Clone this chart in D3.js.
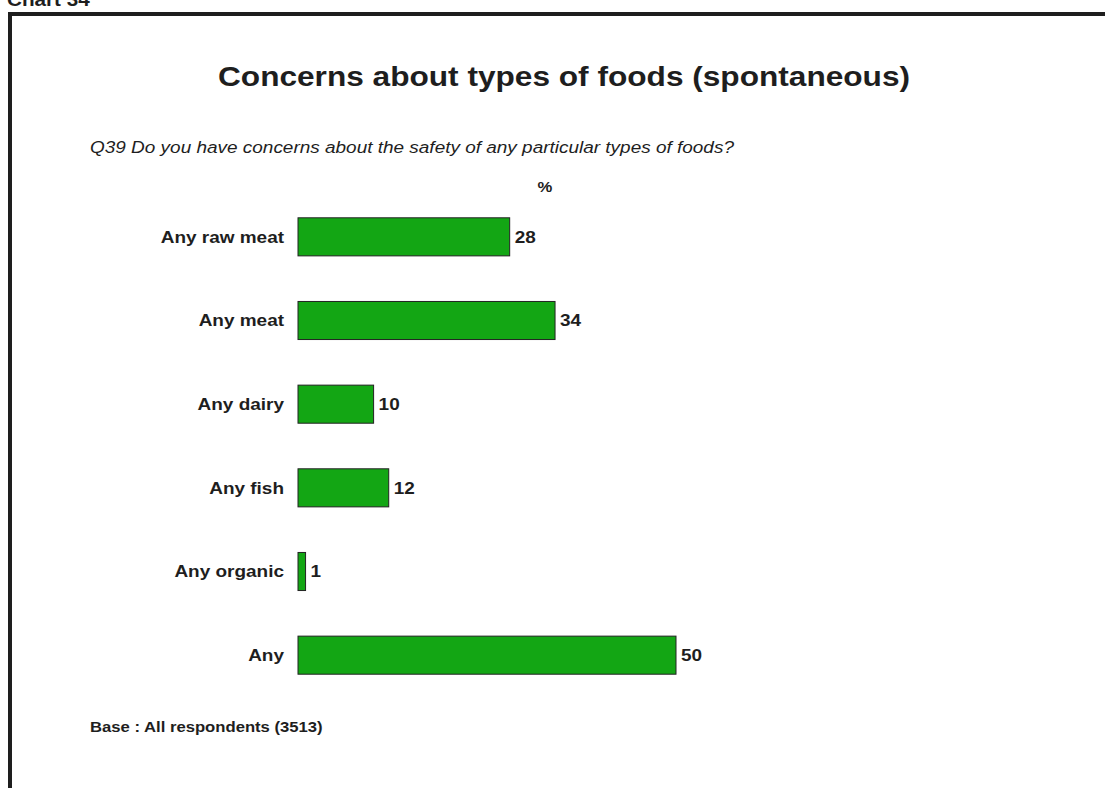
<!DOCTYPE html>
<html>
<head>
<meta charset="utf-8">
<script src="https://cdn.jsdelivr.net/npm/d3@7"></script>
<style>
  html, body { margin: 0; padding: 0; background: #fff; }
  svg { display: block; font-family: "Liberation Sans", Arial, sans-serif; }
</style>
</head>
<body>
<svg id="chart" width="1105" height="788"></svg>
<script>
// Survey answers: share of respondents naming each food type
const categories = ["Any raw meat", "Any meat", "Any dairy", "Any fish", "Any organic", "Any"];
const values = [28, 34, 10, 12, 1, 50];

const chartNumber = "Chart 34";
const title = "Concerns about types of foods (spontaneous)";
const question = "Q39 Do you have concerns about the safety of any particular types of foods?";
const unitLabel = "%";
const baseNote = "Base : All respondents (3513)";

const ink = "#1e1e1e";
const stretch = 1.15; // report typeface is set slightly wide

const svg = d3.select("#chart");

// Places a text at (x, y) with the wide horizontal setting
function label(parent, x, y, str, opts) {
  return parent.append("text")
    .attr("transform", `translate(${x},${y}) scale(${stretch},1)`)
    .attr("text-anchor", opts.anchor || "start")
    .attr("dy", opts.dy || 0)
    .attr("font-size", opts.size)
    .attr("font-weight", opts.weight || "bold")
    .attr("font-style", opts.style || "normal")
    .attr("fill", ink)
    .text(str);
}

// Chart number heading, partly above the frame
label(svg, 7, 6, chartNumber, { size: 18 });

// Frame: top and left rules
svg.append("line").attr("x1", 8).attr("x2", 1105).attr("y1", 14).attr("y2", 14)
  .attr("stroke", ink).attr("stroke-width", 4);
svg.append("line").attr("x1", 10).attr("x2", 10).attr("y1", 12).attr("y2", 788)
  .attr("stroke", ink).attr("stroke-width", 4);

label(svg, 564, 86, title, { size: 27.5, anchor: "middle" });
label(svg, 90, 153, question, { size: 16.5, weight: "normal", style: "italic" });

const x = d3.scaleLinear().domain([0, 50]).range([298, 676]);
const y = d3.scaleBand().domain(categories).range([195, 697])
  .paddingInner(0.545).paddingOuter(0.2725);

label(svg, 545, 192, unitLabel, { size: 14.5, anchor: "middle" });

const rows = svg.append("g").selectAll("g")
  .data(categories.map((c, i) => ({ c, v: values[i] })))
  .join("g");

rows.append("rect")
  .attr("x", x(0))
  .attr("y", d => y(d.c))
  .attr("width", d => x(d.v) - x(0))
  .attr("height", y.bandwidth())
  .attr("fill", "#13a614")
  .attr("stroke", "#222")
  .attr("stroke-width", 1);

rows.each(function (d) {
  const g = d3.select(this);
  const cy = y(d.c) + y.bandwidth() / 2;
  label(g, 284, cy, d.c, { size: 16.5, anchor: "end", dy: "0.35em" });
  label(g, x(d.v) + 5, cy, d.v, { size: 16.5, dy: "0.36em" });
});

label(svg, 90, 732, baseNote, { size: 14.5 });
</script>
</body>
</html>
